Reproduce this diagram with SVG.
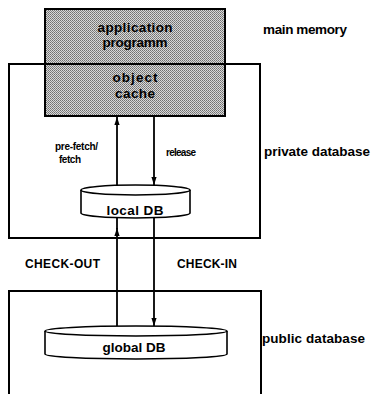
<svg xmlns="http://www.w3.org/2000/svg" width="375" height="394" viewBox="0 0 375 394">
  <style>
    .frame { fill: none; stroke: #000; stroke-width: 2; }
    .db { fill: #fff; stroke: #000; stroke-width: 1.6; }
    .flow { fill: none; stroke: #000; stroke-width: 1.8; }
    text { font-family: "Liberation Sans", Arial, Helvetica, sans-serif; font-weight: bold; fill: #000; }
    .inner { font-size: 13.5px; text-anchor: middle; }
    .side { font-size: 13.5px; }
    .small { font-size: 10px; }
    .check { font-size: 12px; }
  </style>
  <defs>
    <!-- fine dot stipple used for the main-memory area -->
    <pattern id="stipple" width="2" height="2" patternUnits="userSpaceOnUse">
      <rect width="2" height="2" fill="#d8d8d8"/>
      <rect x="0" y="0" width="1" height="1" fill="#707070"/>
      <rect x="1" y="1" width="1" height="1" fill="#858585"/>
    </pattern>
    <marker id="arrow" markerUnits="userSpaceOnUse" markerWidth="9" markerHeight="6" refX="8" refY="3" orient="auto">
      <path d="M0,0.4 L8,3 L0,5.6 z" fill="#000"/>
    </marker>
  </defs>

  <!-- main memory: application program with its object cache -->
  <g id="mainMemory">
    <rect x="45" y="9" width="180" height="107" fill="url(#stipple)" stroke="#000" stroke-width="2"/>
    <text class="inner" x="135" y="32" textLength="75">application</text>
    <text class="inner" x="135" y="47" textLength="65">programm</text>
    <text class="inner" x="135" y="82" textLength="45">object</text>
    <text class="inner" x="135" y="98" textLength="40">cache</text>
    <text class="side" x="263" y="34" textLength="84">main memory</text>
  </g>

  <!-- private database frame (drawn over the memory box) -->
  <g id="privateDatabase">
    <rect class="frame" x="9" y="64" width="251" height="174"/>
    <text class="side" x="264" y="156" textLength="106">private database</text>
  </g>

  <!-- public database frame, open at the bottom -->
  <g id="publicDatabase">
    <path class="frame" d="M9,394 L9,291 L261,291 L261,394"/>
    <text class="side" x="262" y="343" textLength="103">public database</text>
  </g>

  <g id="localDB">
    <path class="db" d="M81,190 L81,213 A54.5,5 0 0 0 190,213 L190,190"/>
    <ellipse class="db" cx="135.5" cy="190" rx="54.5" ry="5"/>
    <text class="inner" x="135" y="215" textLength="57">local DB</text>
  </g>

  <g id="globalDB">
    <path class="db" d="M45,331 L45,354 A91,5 0 0 0 227,354 L227,331"/>
    <ellipse class="db" cx="136" cy="331" rx="91" ry="5"/>
    <text class="inner" x="134" y="352" textLength="63">global DB</text>
  </g>

  <g id="connectors">
    <path class="flow" d="M117,185 L117,117" marker-end="url(#arrow)"/>
    <path class="flow" d="M154,116 L154,185" marker-end="url(#arrow)"/>
    <path class="flow" d="M117,326 L117,228" marker-end="url(#arrow)"/>
    <path class="flow" d="M117,229 L117,218"/>
    <path class="flow" d="M154,218 L154,326" marker-end="url(#arrow)"/>
  </g>

  <g id="flowLabels">
    <text class="small" x="55" y="150" textLength="43">pre-fetch/</text>
    <text class="small" x="59" y="163" textLength="22">fetch</text>
    <text class="small" x="166" y="156" textLength="30">release</text>
    <text class="check" x="25" y="268" textLength="75">CHECK-OUT</text>
    <text class="check" x="177" y="268" textLength="60">CHECK-IN</text>
  </g>
</svg>
